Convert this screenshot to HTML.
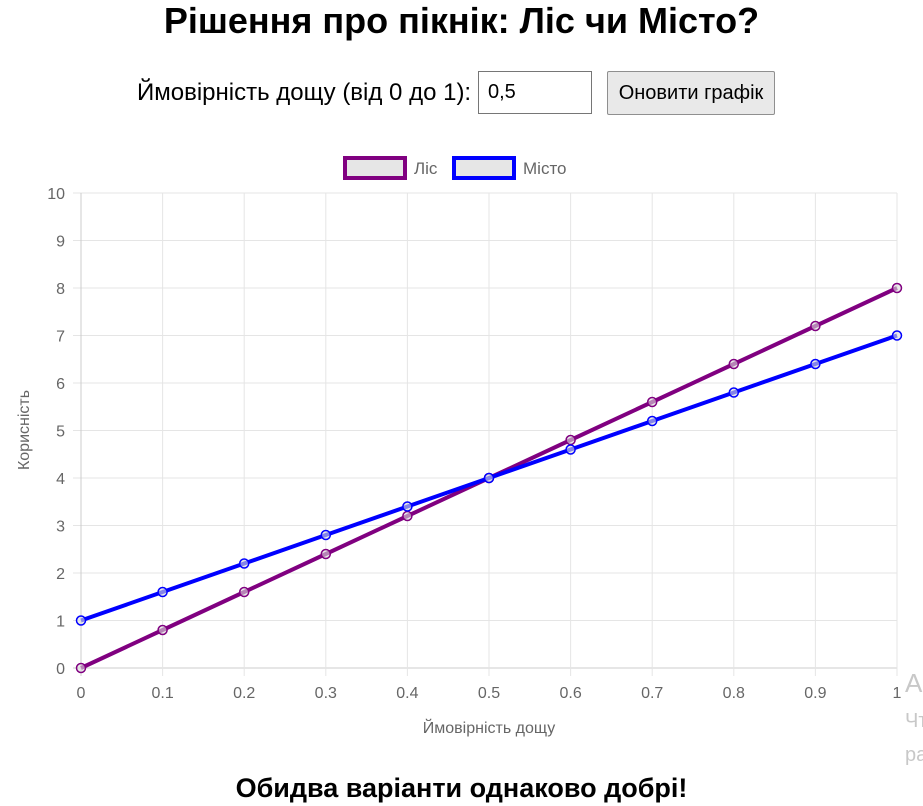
<!DOCTYPE html>
<html><head><meta charset="utf-8">
<style>
html,body{margin:0;width:923px;height:806px;overflow:hidden}
body{background:#fff;font-family:"Liberation Sans",Arial,sans-serif;position:relative}
#wrap{position:absolute;left:0;top:0;width:923px;height:806px;overflow:hidden}
h1{position:absolute;top:0;left:0;width:923px;margin:0;text-align:center;font-size:36px;line-height:42px;font-weight:bold;color:#000}
.ctl{position:absolute;top:71px;left:0;width:923px;height:44px}
.lbl{position:absolute;left:137px;top:8px;font-size:24px;color:#000;white-space:nowrap}
.inp{position:absolute;left:478px;top:0;width:114px;height:43px;border:1px solid #767676;box-sizing:border-box;font-size:20px;padding:0 0 0 9px;line-height:41px}
.btn{position:absolute;left:607px;top:0;width:168px;height:44px;background:#e9e9e9;border:1px solid #8f8f8f;box-sizing:border-box;font-size:20px;text-align:center;line-height:42px;border-radius:2px;white-space:nowrap}
.res{position:absolute;top:773px;left:0;width:923px;text-align:center;font-size:27px;font-weight:bold}
.wm{position:absolute;left:905px;top:668px;color:#c8c8c8;font-size:26px;white-space:nowrap}
.wm2{position:absolute;left:905px;top:704px;color:#c8c8c8;font-size:20px;white-space:nowrap;line-height:34px}
</style></head><body>
<div id="wrap">
<h1>Рішення про пікнік: Ліс чи Місто?</h1>
<div class="ctl">
<span class="lbl">Ймовірність дощу (від 0 до 1):</span>
<div class="inp">0,5</div>
<div class="btn">Оновити графік</div>
</div>
<svg id="chart" width="923" height="760" style="position:absolute;left:0;top:0"></svg>
<div class="res">Обидва варіанти однаково добрі!</div>
<div class="wm">Активація</div>
<div class="wm2">Чтобы<br>разделе</div>
</div>
<script>
const xValues=[0,0.1,0.2,0.3,0.4,0.5,0.6,0.7,0.8,0.9,1];
const forestValues=[0,0.8,1.6,2.4,3.2,4,4.8,5.6,6.4,7.2,8];
const cityValues=[1,1.6,2.2,2.8,3.4,4,4.6,5.2,5.8,6.4,7];
const yTicks=[0,1,2,3,4,5,6,7,8,9,10];
const xTickLabels=["0","0.1","0.2","0.3","0.4","0.5","0.6","0.7","0.8","0.9","1"];
const NS="http://www.w3.org/2000/svg";
const svg=document.getElementById('chart');
const X0=81,X1=897,Y0=668,Y1=193;
const sx=v=>X0+(X1-X0)*v;
const sy=v=>Y0-(Y0-Y1)*v/10;
function mk(t,a,p){const e=document.createElementNS(NS,t);for(const k in a)e.setAttribute(k,a[k]);(p||svg).appendChild(e);return e;}
yTicks.forEach((t,i)=>{
 const g=mk('line',{x1:X0-8,x2:X1,y1:sy(t),y2:sy(t),stroke:i==0?'#ccc':'#e5e5e5'});
 
 
 const l=mk('text',{x:X0-16,y:sy(t)+6,'text-anchor':'end','font-size':16,fill:'#666','font-family':'Liberation Sans'});
 l.textContent=t;
 
 
});
xValues.forEach((v,i)=>{
 const g=mk('line',{x1:sx(v),x2:sx(v),y1:Y1,y2:Y0+8,stroke:i==0?'#ccc':'#e5e5e5'});
 
 
 const l=mk('text',{x:sx(v),y:Y0+30,'text-anchor':'middle','font-size':16,fill:'#666','font-family':'Liberation Sans'});
 l.textContent=xTickLabels[i];
 
 
});
const xt=mk('text',{x:(X0+X1)/2,y:733,'text-anchor':'middle','font-size':16,fill:'#666','font-family':'Liberation Sans'});
xt.textContent='Ймовірність дощу';


const yt=mk('text',{x:0,y:0,'text-anchor':'middle','font-size':16,fill:'#666','font-family':'Liberation Sans',transform:'translate(29,430) rotate(-90)'});
yt.textContent='Корисність';


function series(vals,color,name){
 const p=mk('polyline',{points:vals.map((v,i)=>sx(xValues[i])+','+sy(v)).join(' '),fill:'none',stroke:color,'stroke-width':4});
 
 
 vals.forEach((v,i)=>{
  const c=mk('circle',{cx:sx(xValues[i]),cy:sy(v),r:4.5,fill:'rgba(220,220,220,0.6)',stroke:color,'stroke-width':1.5});
  
  
 });
}
series(forestValues,'#800080','forest');
series(cityValues,'#0000ff','city');
function legend(x,color,label,name){
 const r=mk('rect',{x:x,y:158,width:60,height:20,fill:'#e6e6e6',stroke:color,'stroke-width':4});
 
 
 const t=mk('text',{x:x+69,y:174,'font-size':17,fill:'#666','font-family':'Liberation Sans'});
 t.textContent=label;
 
 
}
legend(345,'#800080','Ліс','forest');
legend(454,'#0000ff','Місто','city');
</script>
</body></html>
